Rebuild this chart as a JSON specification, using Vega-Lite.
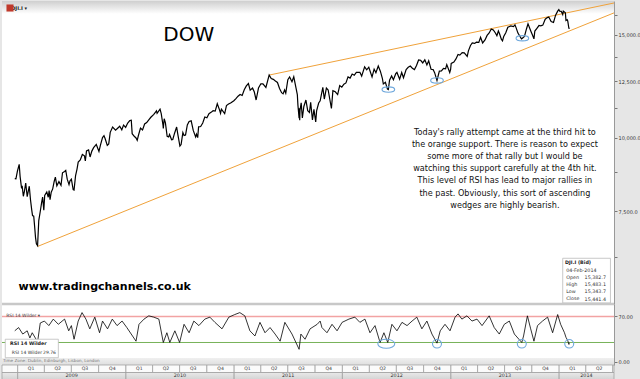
{
"$schema":"https://vega.github.io/schema/vega-lite/v6.json",
"padding":0,
"autosize":{"type":"pad"},
"background":"#e6e6e6",
"spacing":0,
"bounds":"flush",
"config":{"view":{"stroke":null,"fill":"white"},"font":"DejaVu Sans"},
"datasets":{
"price":[
{"d":"2008-12-22","v":8519},{"d":"2008-12-26","v":8515},{"d":"2008-12-31","v":8776},{"d":"2009-01-06","v":9015},{"d":"2009-01-09","v":8599},{"d":"2009-01-14","v":8200},{"d":"2009-01-16","v":8281},{"d":"2009-01-20","v":7950},{"d":"2009-01-23","v":8077},{"d":"2009-01-28","v":8375},{"d":"2009-02-02","v":7936},{"d":"2009-02-09","v":8270},{"d":"2009-02-13","v":7850},{"d":"2009-02-17","v":7552},{"d":"2009-02-20","v":7366},{"d":"2009-02-24","v":7350},{"d":"2009-02-27","v":7063},{"d":"2009-03-02","v":6763},{"d":"2009-03-05","v":6595},{"d":"2009-03-09","v":6547},{"d":"2009-03-13","v":7224},{"d":"2009-03-18","v":7487},{"d":"2009-03-23","v":7776},{"d":"2009-03-26","v":7924},{"d":"2009-03-30","v":7523},{"d":"2009-04-02","v":7978},{"d":"2009-04-09","v":8083},{"d":"2009-04-14","v":7920},{"d":"2009-04-17","v":8131},{"d":"2009-04-20","v":7841},{"d":"2009-04-24","v":8076},{"d":"2009-04-29","v":8185},{"d":"2009-05-04","v":8426},{"d":"2009-05-08","v":8575},{"d":"2009-05-13","v":8284},{"d":"2009-05-20","v":8422},{"d":"2009-05-27","v":8300},{"d":"2009-06-01","v":8721},{"d":"2009-06-08","v":8764},{"d":"2009-06-12","v":8799},{"d":"2009-06-17","v":8504},{"d":"2009-06-23","v":8322},{"d":"2009-06-26","v":8438},{"d":"2009-07-01","v":8504},{"d":"2009-07-07","v":8163},{"d":"2009-07-10","v":8146},{"d":"2009-07-15","v":8616},{"d":"2009-07-20","v":8848},{"d":"2009-07-24","v":9093},{"d":"2009-07-31","v":9172},{"d":"2009-08-07","v":9370},{"d":"2009-08-14","v":9321},{"d":"2009-08-17","v":9135},{"d":"2009-08-21","v":9505},{"d":"2009-08-28","v":9544},{"d":"2009-09-02","v":9280},{"d":"2009-09-08","v":9497},{"d":"2009-09-14","v":9626},{"d":"2009-09-23","v":9749},{"d":"2009-10-02","v":9487},{"d":"2009-10-07","v":9725},{"d":"2009-10-14","v":10015},{"d":"2009-10-19","v":10092},{"d":"2009-10-23","v":9972},{"d":"2009-10-30","v":9713},{"d":"2009-11-04","v":9771},{"d":"2009-11-09","v":10226},{"d":"2009-11-17","v":10437},{"d":"2009-11-27","v":10309},{"d":"2009-12-04","v":10389},{"d":"2009-12-11","v":10471},{"d":"2009-12-18","v":10329},{"d":"2009-12-24","v":10520},{"d":"2009-12-31","v":10428},
{"d":"2010-01-07","v":10606},{"d":"2010-01-14","v":10710},{"d":"2010-01-19","v":10725},{"d":"2010-01-22","v":10172},{"d":"2010-01-29","v":10067},{"d":"2010-02-04","v":10002},{"d":"2010-02-08","v":9908},{"d":"2010-02-12","v":10099},{"d":"2010-02-19","v":10402},{"d":"2010-02-26","v":10325},{"d":"2010-03-05","v":10567},{"d":"2010-03-12","v":10625},{"d":"2010-03-19","v":10742},{"d":"2010-03-26","v":10850},{"d":"2010-04-05","v":10974},{"d":"2010-04-14","v":11123},{"d":"2010-04-16","v":11019},{"d":"2010-04-26","v":11205},{"d":"2010-04-30","v":11009},{"d":"2010-05-06","v":10520},{"d":"2010-05-07","v":10380},{"d":"2010-05-10","v":10785},{"d":"2010-05-14","v":10620},{"d":"2010-05-20","v":10069},{"d":"2010-05-25","v":10043},{"d":"2010-05-28","v":10137},{"d":"2010-06-04","v":9931},{"d":"2010-06-08","v":9940},{"d":"2010-06-14","v":10190},{"d":"2010-06-21","v":10442},{"d":"2010-06-25","v":10144},{"d":"2010-07-02","v":9686},{"d":"2010-07-06","v":9744},{"d":"2010-07-12","v":10216},{"d":"2010-07-16","v":10097},{"d":"2010-07-21","v":10120},{"d":"2010-07-27","v":10525},{"d":"2010-08-02","v":10674},{"d":"2010-08-09","v":10698},{"d":"2010-08-16","v":10303},{"d":"2010-08-24","v":10041},{"d":"2010-08-27","v":10150},{"d":"2010-08-31","v":10014},{"d":"2010-09-03","v":10448},{"d":"2010-09-10","v":10462},{"d":"2010-09-17","v":10608},{"d":"2010-09-24","v":10860},{"d":"2010-10-01","v":10829},{"d":"2010-10-08","v":11006},{"d":"2010-10-15","v":11062},{"d":"2010-10-22","v":11133},{"d":"2010-10-29","v":11118},{"d":"2010-11-05","v":11444},{"d":"2010-11-12","v":11193},{"d":"2010-11-16","v":11023},{"d":"2010-11-19","v":11204},{"d":"2010-11-30","v":11006},{"d":"2010-12-06","v":11362},{"d":"2010-12-13","v":11429},{"d":"2010-12-20","v":11478},{"d":"2010-12-31","v":11578},
{"d":"2011-01-07","v":11675},{"d":"2011-01-14","v":11787},{"d":"2011-01-21","v":11871},{"d":"2011-01-28","v":11824},{"d":"2011-02-04","v":12092},{"d":"2011-02-11","v":12273},{"d":"2011-02-18","v":12391},{"d":"2011-02-24","v":12068},{"d":"2011-03-04","v":12170},{"d":"2011-03-10","v":11984},{"d":"2011-03-16","v":11613},{"d":"2011-03-24","v":12171},{"d":"2011-04-01","v":12377},{"d":"2011-04-08","v":12380},{"d":"2011-04-18","v":12202},{"d":"2011-04-29","v":12811},{"d":"2011-05-06","v":12638},{"d":"2011-05-13","v":12596},{"d":"2011-05-20","v":12512},{"d":"2011-05-27","v":12442},{"d":"2011-06-03","v":12151},{"d":"2011-06-10","v":11952},{"d":"2011-06-15","v":11897},{"d":"2011-06-20","v":12080},{"d":"2011-06-24","v":11934},{"d":"2011-07-01","v":12582},{"d":"2011-07-07","v":12719},{"d":"2011-07-15","v":12480},{"d":"2011-07-21","v":12724},{"d":"2011-07-29","v":12143},{"d":"2011-08-02","v":11867},{"d":"2011-08-04","v":11383},{"d":"2011-08-08","v":10810},{"d":"2011-08-09","v":11239},{"d":"2011-08-10","v":10719},{"d":"2011-08-11","v":11143},{"d":"2011-08-15","v":11482},{"d":"2011-08-19","v":10817},{"d":"2011-08-24","v":11320},{"d":"2011-08-31","v":11613},{"d":"2011-09-06","v":11139},{"d":"2011-09-12","v":11061},{"d":"2011-09-16","v":11509},{"d":"2011-09-22","v":10733},{"d":"2011-09-27","v":11190},{"d":"2011-10-03","v":10655},{"d":"2011-10-06","v":11123},{"d":"2011-10-13","v":11478},{"d":"2011-10-18","v":11577},{"d":"2011-10-27","v":12209},{"d":"2011-11-01","v":11657},{"d":"2011-11-08","v":12170},{"d":"2011-11-14","v":12079},{"d":"2011-11-25","v":11231},{"d":"2011-11-30","v":12046},{"d":"2011-12-08","v":11997},{"d":"2011-12-16","v":11866},{"d":"2011-12-23","v":12294},{"d":"2011-12-30","v":12218},
{"d":"2012-01-06","v":12360},{"d":"2012-01-13","v":12422},{"d":"2012-01-20","v":12720},{"d":"2012-01-27","v":12660},{"d":"2012-02-03","v":12862},{"d":"2012-02-10","v":12801},{"d":"2012-02-17","v":12950},{"d":"2012-02-29","v":12952},{"d":"2012-03-06","v":12759},{"d":"2012-03-16","v":13233},{"d":"2012-03-23","v":13081},{"d":"2012-03-30","v":13212},{"d":"2012-04-10","v":12716},{"d":"2012-04-17","v":13115},{"d":"2012-04-23","v":12928},{"d":"2012-05-01","v":13279},{"d":"2012-05-08","v":13008},{"d":"2012-05-15","v":12632},{"d":"2012-05-18","v":12369},{"d":"2012-05-25","v":12454},{"d":"2012-06-01","v":12119},{"d":"2012-06-04","v":12101},{"d":"2012-06-08","v":12554},{"d":"2012-06-15","v":12767},{"d":"2012-06-21","v":12574},{"d":"2012-06-29","v":12880},{"d":"2012-07-03","v":12943},{"d":"2012-07-12","v":12605},{"d":"2012-07-19","v":12943},{"d":"2012-07-25","v":12676},{"d":"2012-08-03","v":13096},{"d":"2012-08-10","v":13207},{"d":"2012-08-17","v":13275},{"d":"2012-08-24","v":13158},{"d":"2012-08-31","v":13090},{"d":"2012-09-07","v":13306},{"d":"2012-09-14","v":13593},{"d":"2012-09-21","v":13579},{"d":"2012-09-28","v":13437},{"d":"2012-10-05","v":13610},{"d":"2012-10-12","v":13328},{"d":"2012-10-18","v":13548},{"d":"2012-10-26","v":13107},{"d":"2012-11-02","v":13093},{"d":"2012-11-07","v":12932},{"d":"2012-11-15","v":12542},{"d":"2012-11-23","v":13010},{"d":"2012-11-30","v":13025},{"d":"2012-12-07","v":13155},{"d":"2012-12-14","v":13135},{"d":"2012-12-18","v":13351},{"d":"2012-12-28","v":12938},{"d":"2012-12-31","v":13104},
{"d":"2013-01-02","v":13412},{"d":"2013-01-11","v":13488},{"d":"2013-01-18","v":13650},{"d":"2013-01-25","v":13896},{"d":"2013-01-31","v":13861},{"d":"2013-02-08","v":13993},{"d":"2013-02-15","v":13981},{"d":"2013-02-25","v":13784},{"d":"2013-03-01","v":14090},{"d":"2013-03-08","v":14397},{"d":"2013-03-14","v":14539},{"d":"2013-03-22","v":14512},{"d":"2013-03-28","v":14579},{"d":"2013-04-05","v":14565},{"d":"2013-04-11","v":14865},{"d":"2013-04-18","v":14537},{"d":"2013-04-26","v":14712},{"d":"2013-05-03","v":14974},{"d":"2013-05-10","v":15118},{"d":"2013-05-17","v":15354},{"d":"2013-05-24","v":15303},{"d":"2013-05-31","v":15116},{"d":"2013-06-05","v":14961},{"d":"2013-06-10","v":15238},{"d":"2013-06-14","v":15070},{"d":"2013-06-20","v":14758},{"d":"2013-06-24","v":14660},{"d":"2013-06-28","v":14910},{"d":"2013-07-05","v":15135},{"d":"2013-07-12","v":15464},{"d":"2013-07-22","v":15545},{"d":"2013-07-31","v":15500},{"d":"2013-08-05","v":15612},{"d":"2013-08-09","v":15425},{"d":"2013-08-15","v":15112},{"d":"2013-08-27","v":14777},{"d":"2013-08-30","v":14810},{"d":"2013-09-06","v":14922},{"d":"2013-09-13","v":15376},{"d":"2013-09-18","v":15676},{"d":"2013-09-27","v":15258},{"d":"2013-10-03","v":14997},{"d":"2013-10-08","v":14776},{"d":"2013-10-11","v":15237},{"d":"2013-10-18","v":15400},{"d":"2013-10-25","v":15570},{"d":"2013-10-31","v":15546},{"d":"2013-11-07","v":15593},{"d":"2013-11-15","v":15962},{"d":"2013-11-22","v":16065},{"d":"2013-11-27","v":16097},{"d":"2013-12-05","v":15821},{"d":"2013-12-13","v":15755},{"d":"2013-12-20","v":16221},{"d":"2013-12-27","v":16479},{"d":"2013-12-31","v":16577},
{"d":"2014-01-03","v":16470},{"d":"2014-01-08","v":16462},{"d":"2014-01-13","v":16257},{"d":"2014-01-15","v":16482},{"d":"2014-01-22","v":16373},{"d":"2014-01-24","v":15879},{"d":"2014-01-28","v":15929},{"d":"2014-01-30","v":15849},{"d":"2014-02-03","v":15372},{"d":"2014-02-04","v":15445}],
"rsi":[
{"d":"2008-12-22","r":48},{"d":"2009-01-04","r":53},{"d":"2009-01-18","r":43},{"d":"2009-02-02","r":48},{"d":"2009-02-11","r":37},{"d":"2009-02-19","r":45},{"d":"2009-03-09","r":31},{"d":"2009-03-18","r":60},{"d":"2009-04-01","r":63},{"d":"2009-04-16","r":56},{"d":"2009-05-01","r":66},{"d":"2009-05-18","r":58},{"d":"2009-06-08","r":66},{"d":"2009-06-22","r":48},{"d":"2009-07-01","r":56},{"d":"2009-07-10","r":35},{"d":"2009-07-24","r":63},{"d":"2009-08-06","r":76},{"d":"2009-08-19","r":66},{"d":"2009-09-01","r":51},{"d":"2009-09-18","r":69},{"d":"2009-10-04","r":45},{"d":"2009-10-14","r":63},{"d":"2009-10-31","r":51},{"d":"2009-11-16","r":66},{"d":"2009-12-02","r":56},{"d":"2009-12-19","r":63},
{"d":"2010-01-04","r":53},{"d":"2010-02-04","r":32},{"d":"2010-02-14","r":58},{"d":"2010-03-03","r":66},{"d":"2010-03-19","r":71},{"d":"2010-04-05","r":69},{"d":"2010-04-22","r":66},{"d":"2010-05-07","r":30},{"d":"2010-05-19","r":45},{"d":"2010-05-29","r":30},{"d":"2010-06-15","r":48},{"d":"2010-07-01","r":30},{"d":"2010-07-16","r":58},{"d":"2010-08-02","r":45},{"d":"2010-08-18","r":63},{"d":"2010-09-04","r":56},{"d":"2010-09-24","r":66},{"d":"2010-10-11","r":69},{"d":"2010-10-28","r":61},{"d":"2010-11-21","r":51},{"d":"2010-12-14","r":69},
{"d":"2011-01-03","r":73},{"d":"2011-01-20","r":76},{"d":"2011-02-06","r":71},{"d":"2011-02-23","r":48},{"d":"2011-03-12","r":40},{"d":"2011-03-29","r":61},{"d":"2011-04-15","r":45},{"d":"2011-05-02","r":53},{"d":"2011-05-19","r":43},{"d":"2011-06-05","r":32},{"d":"2011-06-21","r":61},{"d":"2011-07-15","r":43},{"d":"2011-08-08","r":19.5},{"d":"2011-08-14","r":43},{"d":"2011-08-28","r":35},{"d":"2011-09-14","r":51},{"d":"2011-10-08","r":58},{"d":"2011-10-18","r":63},{"d":"2011-10-24","r":53},{"d":"2011-11-10","r":45},{"d":"2011-11-27","r":58},{"d":"2011-12-14","r":48},{"d":"2011-12-31","r":61},
{"d":"2012-01-23","r":66},{"d":"2012-02-12","r":69},{"d":"2012-02-29","r":61},{"d":"2012-03-17","r":66},{"d":"2012-04-03","r":45},{"d":"2012-04-20","r":56},{"d":"2012-05-07","r":30},{"d":"2012-05-20","r":45},{"d":"2012-06-02","r":30},{"d":"2012-06-16","r":58},{"d":"2012-07-03","r":48},{"d":"2012-07-20","r":61},{"d":"2012-08-06","r":56},{"d":"2012-08-23","r":63},{"d":"2012-09-08","r":69},{"d":"2012-09-25","r":51},{"d":"2012-10-12","r":63},{"d":"2012-10-29","r":43},{"d":"2012-11-15","r":29},{"d":"2012-11-26","r":48},{"d":"2012-12-12","r":58},{"d":"2012-12-29","r":48},
{"d":"2013-01-15","r":69},{"d":"2013-01-25","r":74},{"d":"2013-02-07","r":66},{"d":"2013-02-24","r":71},{"d":"2013-03-13","r":63},{"d":"2013-03-30","r":66},{"d":"2013-04-16","r":56},{"d":"2013-05-10","r":71},{"d":"2013-05-27","r":53},{"d":"2013-06-13","r":43},{"d":"2013-06-30","r":58},{"d":"2013-07-17","r":63},{"d":"2013-08-03","r":43},{"d":"2013-08-28","r":30},{"d":"2013-09-03","r":40},{"d":"2013-09-16","r":71},{"d":"2013-09-27","r":51},{"d":"2013-10-08","r":32},{"d":"2013-10-20","r":56},{"d":"2013-11-06","r":63},{"d":"2013-11-23","r":69},{"d":"2013-12-10","r":45},{"d":"2013-12-27","r":73},
{"d":"2014-01-06","r":58},{"d":"2014-01-19","r":45},{"d":"2014-01-24","r":38},{"d":"2014-01-30","r":33},{"d":"2014-02-03","r":27},{"d":"2014-02-04","r":29.76}],
"wedge":[{"line":"lower","d":"2009-03-09","v":6525},{"line":"lower","d":"2014-07-05","v":16364},{"line":"upper","d":"2011-04-29","v":12811},{"line":"upper","d":"2014-07-05","v":17015}],
"hits":[{"d":"2012-06-04","v":12101},{"d":"2012-11-15","v":12542},{"d":"2013-08-30","v":14810}],
"rsihits":[{"d":"2012-11-15","r":28},{"d":"2013-08-28","r":28},{"d":"2014-02-04","r":28}],
"rsihitwide":[{"d":"2012-05-28","r":28}],
"quarters":[
{"s":"2008-11-09","e":"2009-01-01","m":"2008-12-01","q":"","row":"q"},
{"s":"2009-01-01","e":"2009-04-01","m":"2009-02-15","q":"Q1","row":"q"},{"s":"2009-04-01","e":"2009-07-01","m":"2009-05-16","q":"Q2","row":"q"},{"s":"2009-07-01","e":"2009-10-01","m":"2009-08-16","q":"Q3","row":"q"},{"s":"2009-10-01","e":"2010-01-01","m":"2009-11-16","q":"Q4","row":"q"},
{"s":"2010-01-01","e":"2010-04-01","m":"2010-02-15","q":"Q1","row":"q"},{"s":"2010-04-01","e":"2010-07-01","m":"2010-05-16","q":"Q2","row":"q"},{"s":"2010-07-01","e":"2010-10-01","m":"2010-08-16","q":"Q3","row":"q"},{"s":"2010-10-01","e":"2011-01-01","m":"2010-11-16","q":"Q4","row":"q"},
{"s":"2011-01-01","e":"2011-04-01","m":"2011-02-15","q":"Q1","row":"q"},{"s":"2011-04-01","e":"2011-07-01","m":"2011-05-16","q":"Q2","row":"q"},{"s":"2011-07-01","e":"2011-10-01","m":"2011-08-16","q":"Q3","row":"q"},{"s":"2011-10-01","e":"2012-01-01","m":"2011-11-16","q":"Q4","row":"q"},
{"s":"2012-01-01","e":"2012-04-01","m":"2012-02-15","q":"Q1","row":"q"},{"s":"2012-04-01","e":"2012-07-01","m":"2012-05-16","q":"Q2","row":"q"},{"s":"2012-07-01","e":"2012-10-01","m":"2012-08-16","q":"Q3","row":"q"},{"s":"2012-10-01","e":"2013-01-01","m":"2012-11-16","q":"Q4","row":"q"},
{"s":"2013-01-01","e":"2013-04-01","m":"2013-02-15","q":"Q1","row":"q"},{"s":"2013-04-01","e":"2013-07-01","m":"2013-05-16","q":"Q2","row":"q"},{"s":"2013-07-01","e":"2013-10-01","m":"2013-08-16","q":"Q3","row":"q"},{"s":"2013-10-01","e":"2014-01-01","m":"2013-11-16","q":"Q4","row":"q"},
{"s":"2014-01-01","e":"2014-04-01","m":"2014-02-15","q":"Q1","row":"q"},{"s":"2014-04-01","e":"2014-07-01","m":"2014-05-16","q":"Q2","row":"q"},{"s":"2014-07-01","e":"2014-07-05","m":"2014-07-03","q":"","row":"q"}],
"years":[
{"s":"2008-11-09","e":"2009-01-01","m":"2008-12-01","y":"","row":"yr"},{"s":"2009-01-01","e":"2010-01-01","m":"2009-07-02","y":"2009","row":"yr"},{"s":"2010-01-01","e":"2011-01-01","m":"2010-07-02","y":"2010","row":"yr"},{"s":"2011-01-01","e":"2012-01-01","m":"2011-07-02","y":"2011","row":"yr"},{"s":"2012-01-01","e":"2013-01-01","m":"2012-07-02","y":"2012","row":"yr"},{"s":"2013-01-01","e":"2014-01-01","m":"2013-07-02","y":"2013","row":"yr"},{"s":"2014-01-01","e":"2014-07-05","m":"2014-04-03","y":"2014","row":"yr"}]
},
"vconcat":[
{"width":612,"height":303,
 "layer":[
{"data":{"values":[{}]},"mark":{"type":"rect","fill":{"gradient":"linear","x1":0,"y1":0,"x2":0,"y2":1,"stops":[{"offset":0,"color":"#cfcfcf"},{"offset":1,"color":"#ffffff"}]}},
 "encoding":{"x":{"datum":{"year":2008,"month":11,"date":9,"utc":true},"type":"temporal","scale":{"domain":[{"year":2008,"month":11,"date":9,"utc":true},{"year":2014,"month":7,"date":5,"utc":true}]},"axis":null},"x2":{"datum":{"year":2014,"month":7,"date":5,"utc":true}},
  "y":{"datum":17148,"type":"quantitative","scale":{"type":"log","domain":[5202,17148],"nice":false},
   "axis":{"orient":"right","title":null,"grid":false,"values":[6250,7500,8750,10000,11250,12500,13750,15000,16250],"labelExpr":"datum.value % 2500 === 0 ? format(datum.value, ',.1f') : ''","labelFontSize":5,"labelColor":"#333333","labelPadding":1,"labelOverlap":false,"tickColor":"#777777","tickSize":3,"domainColor":"#999999"}},"y2":{"datum":16300}}},
{"data":{"name":"wedge"},"mark":{"type":"line","color":"#f0a23a","strokeWidth":1},
 "encoding":{"x":{"field":"d","type":"temporal","scale":{"domain":[{"year":2008,"month":11,"date":9,"utc":true},{"year":2014,"month":7,"date":5,"utc":true}]},"axis":null},"y":{"field":"v","type":"quantitative","scale":{"type":"log","domain":[5202,17148],"nice":false}},"detail":{"field":"line"}}},
{"data":{"name":"price"},"mark":{"type":"line","color":"#000000","strokeWidth":1.2},
 "encoding":{"x":{"field":"d","type":"temporal","scale":{"domain":[{"year":2008,"month":11,"date":9,"utc":true},{"year":2014,"month":7,"date":5,"utc":true}]},"axis":null},
  "y":{"field":"v","type":"quantitative","scale":{"type":"log","domain":[5202,17148],"nice":false}}}},
{"data":{"name":"hits"},"mark":{"type":"point","shape":"M -1 0 A 1 0.42 0 1 1 1 0 A 1 0.42 0 1 1 -1 0 Z","size":160,"stroke":"#6fa8dc","strokeWidth":1.1,"filled":false,"opacity":1},
 "encoding":{"x":{"field":"d","type":"temporal","scale":{"domain":[{"year":2008,"month":11,"date":9,"utc":true},{"year":2014,"month":7,"date":5,"utc":true}]},"axis":null},"y":{"field":"v","type":"quantitative","scale":{"type":"log","domain":[5202,17148],"nice":false}}}},
{"data":{"values":[{"t":"DOW"}]},"mark":{"type":"text","fontSize":20,"align":"center","baseline":"middle","color":"#000000"},
 "encoding":{"text":{"field":"t"},"x":{"datum":{"year":2010,"month":8,"date":1,"utc":true},"type":"temporal","scale":{"domain":[{"year":2008,"month":11,"date":9,"utc":true},{"year":2014,"month":7,"date":5,"utc":true}]},"axis":null},
  "y":{"datum":15000,"type":"quantitative","scale":{"type":"log","domain":[5202,17148],"nice":false}}}},
{"data":{"values":[{"t":"Today's rally attempt came at the third hit to\nthe orange support. There is reason to expect\nsome more of that rally but I would be\nwatching this support carefully at the 4th hit.\nThis level of RSI has lead to major rallies in\nthe past. Obviously, this sort of ascending\nwedges are highly bearish."}]},
 "mark":{"type":"text","fontSize":8.1,"lineHeight":12.2,"lineBreak":"\n","align":"center","baseline":"top","color":"#111111"},
 "encoding":{"text":{"field":"t"},"x":{"datum":{"year":2013,"month":7,"date":2,"utc":true},"type":"temporal","scale":{"domain":[{"year":2008,"month":11,"date":9,"utc":true},{"year":2014,"month":7,"date":5,"utc":true}]},"axis":null},
  "y":{"datum":10373,"type":"quantitative","scale":{"type":"log","domain":[5202,17148],"nice":false}}}},
{"data":{"values":[{"t":"www.tradingchannels.co.uk"}]},"mark":{"type":"text","fontSize":11,"fontWeight":"bold","align":"left","baseline":"middle","color":"#000000"},
 "encoding":{"text":{"field":"t"},"x":{"datum":{"year":2009,"month":1,"date":4,"utc":true},"type":"temporal","scale":{"domain":[{"year":2008,"month":11,"date":9,"utc":true},{"year":2014,"month":7,"date":5,"utc":true}]},"axis":null},
  "y":{"datum":5562,"type":"quantitative","scale":{"type":"log","domain":[5202,17148],"nice":false}}}},
{"data":{"values":[{"t":"DJI.I ▾"}]},"mark":{"type":"text","fontSize":5,"fontWeight":"bold","align":"left","baseline":"middle","color":"#222222"},
 "encoding":{"text":{"field":"t"},"x":{"datum":{"year":2008,"month":12,"date":10,"utc":true},"type":"temporal","scale":{"domain":[{"year":2008,"month":11,"date":9,"utc":true},{"year":2014,"month":7,"date":5,"utc":true}]},"axis":null},
  "y":{"datum":16682,"type":"quantitative","scale":{"type":"log","domain":[5202,17148],"nice":false}}}},
{"data":{"values":[{}]},"mark":{"type":"point","shape":"square","size":50,"filled":true,"color":"#c0392b","opacity":1},
 "encoding":{"x":{"datum":{"year":2008,"month":11,"date":36,"utc":true},"type":"temporal","scale":{"domain":[{"year":2008,"month":11,"date":9,"utc":true},{"year":2014,"month":7,"date":5,"utc":true}]},"axis":null},
  "y":{"datum":16682,"type":"quantitative","scale":{"type":"log","domain":[5202,17148],"nice":false}}}},
{"data":{"values":[{}]},"mark":{"type":"rect","fill":"#ffffff","stroke":"#bbbbbb","strokeWidth":0.8},
 "encoding":{"x":{"datum":{"year":2014,"month":1,"date":13,"utc":true},"type":"temporal","scale":{"domain":[{"year":2008,"month":11,"date":9,"utc":true},{"year":2014,"month":7,"date":5,"utc":true}]},"axis":null},"x2":{"datum":{"year":2014,"month":6,"date":23,"utc":true}},
  "y":{"datum":6228,"type":"quantitative","scale":{"type":"log","domain":[5202,17148],"nice":false}},"y2":{"datum":5223}}},
{"data":{"values":[{"t":"DJI.I (Bid)"}]},"mark":{"type":"text","fontSize":4.8,"fontWeight":"bold","align":"left","baseline":"middle","color":"#222222"},
 "encoding":{"text":{"field":"t"},"x":{"datum":{"year":2014,"month":1,"date":21,"utc":true},"type":"temporal","scale":{"domain":[{"year":2008,"month":11,"date":9,"utc":true},{"year":2014,"month":7,"date":5,"utc":true}]},"axis":null},
  "y":{"datum":6120,"type":"quantitative","scale":{"type":"log","domain":[5202,17148],"nice":false}}}},
{"data":{"values":[{"t":"04-Feb-2014\nOpen\nHigh\nLow\nClose"}]},"mark":{"type":"text","fontSize":4.8,"lineHeight":7.1,"lineBreak":"\n","align":"left","baseline":"top","color":"#333333"},
 "encoding":{"text":{"field":"t"},"x":{"datum":{"year":2014,"month":1,"date":25,"utc":true},"type":"temporal","scale":{"domain":[{"year":2008,"month":11,"date":9,"utc":true},{"year":2014,"month":7,"date":5,"utc":true}]},"axis":null},
  "y":{"datum":5996,"type":"quantitative","scale":{"type":"log","domain":[5202,17148],"nice":false}}}},
{"data":{"values":[{"t":"15,382.7\n15,483.1\n15,343.7\n15,441.4"}]},"mark":{"type":"text","fontSize":4.8,"lineHeight":7.1,"lineBreak":"\n","align":"right","baseline":"top","color":"#333333"},
 "encoding":{"text":{"field":"t"},"x":{"datum":{"year":2014,"month":6,"date":8,"utc":true},"type":"temporal","scale":{"domain":[{"year":2008,"month":11,"date":9,"utc":true},{"year":2014,"month":7,"date":5,"utc":true}]},"axis":null},
  "y":{"datum":5825,"type":"quantitative","scale":{"type":"log","domain":[5202,17148],"nice":false}}}}
 ]},
{"width":612,"height":61,
 "layer":[
{"data":{"values":[{}]},"mark":{"type":"rect","fill":{"gradient":"linear","x1":0,"y1":0,"x2":0,"y2":1,"stops":[{"offset":0,"color":"#f0f0f0"},{"offset":1,"color":"#dedede"}]}},
 "encoding":{"x":{"datum":{"year":2008,"month":11,"date":9,"utc":true},"type":"temporal","scale":{"domain":[{"year":2008,"month":11,"date":9,"utc":true},{"year":2014,"month":7,"date":5,"utc":true}]},"axis":null},"x2":{"datum":{"year":2014,"month":7,"date":5,"utc":true}},
  "y":{"datum":6.15,"type":"quantitative","scale":{"domain":[-4.62,89.23],"nice":false,"zero":false},
   "axis":{"orient":"right","title":null,"grid":false,"values":[0,30,50,70],"format":".2f","labelFontSize":5,"labelColor":"#333333","labelPadding":1,"tickColor":"#777777","tickSize":3,"domainColor":"#999999"}},"y2":{"datum":-4.62}}},
{"data":{"values":[{}]},"mark":{"type":"rule","color":"#c8c8c8","strokeWidth":2.5},
 "encoding":{"y":{"datum":89.23,"type":"quantitative","scale":{"domain":[-4.62,89.23],"nice":false,"zero":false}}}},
{"data":{"values":[{}]},"mark":{"type":"rule","color":"#f2a3a3","strokeWidth":1.5},
 "encoding":{"y":{"datum":70,"type":"quantitative","scale":{"domain":[-4.62,89.23],"nice":false,"zero":false}}}},
{"data":{"values":[{}]},"mark":{"type":"rule","color":"#78b35a","strokeWidth":1},
 "encoding":{"y":{"datum":30,"type":"quantitative","scale":{"domain":[-4.62,89.23],"nice":false,"zero":false}}}},
{"data":{"name":"rsi"},"mark":{"type":"line","color":"#000000","strokeWidth":0.8},
 "encoding":{"x":{"field":"d","type":"temporal","scale":{"domain":[{"year":2008,"month":11,"date":9,"utc":true},{"year":2014,"month":7,"date":5,"utc":true}]},"axis":null},
  "y":{"field":"r","type":"quantitative","scale":{"domain":[-4.62,89.23],"nice":false,"zero":false}}}},
{"data":{"name":"rsihits"},"mark":{"type":"point","shape":"M -1 0 A 1 0.95 0 1 1 1 0 A 1 0.95 0 1 1 -1 0 Z","size":81,"stroke":"#6fa8dc","strokeWidth":1.1,"filled":false,"opacity":1},
 "encoding":{"x":{"field":"d","type":"temporal","scale":{"domain":[{"year":2008,"month":11,"date":9,"utc":true},{"year":2014,"month":7,"date":5,"utc":true}]},"axis":null},"y":{"field":"r","type":"quantitative","scale":{"domain":[-4.62,89.23],"nice":false,"zero":false}}}},
{"data":{"name":"rsihitwide"},"mark":{"type":"point","shape":"M -1 0 A 1 0.53 0 1 1 1 0 A 1 0.53 0 1 1 -1 0 Z","size":289,"stroke":"#6fa8dc","strokeWidth":1.1,"filled":false,"opacity":1},
 "encoding":{"x":{"field":"d","type":"temporal","scale":{"domain":[{"year":2008,"month":11,"date":9,"utc":true},{"year":2014,"month":7,"date":5,"utc":true}]},"axis":null},"y":{"field":"r","type":"quantitative","scale":{"domain":[-4.62,89.23],"nice":false,"zero":false}}}},
{"data":{"values":[{"t":"RSI 14 Wilder ▾"}]},"mark":{"type":"text","fontSize":4.5,"align":"left","baseline":"middle","color":"#444444"},
 "encoding":{"text":{"field":"t"},"x":{"datum":{"year":2008,"month":11,"date":23,"utc":true},"type":"temporal","scale":{"domain":[{"year":2008,"month":11,"date":9,"utc":true},{"year":2014,"month":7,"date":5,"utc":true}]},"axis":null},
  "y":{"datum":70,"type":"quantitative","scale":{"domain":[-4.62,89.23],"nice":false,"zero":false}}}},
{"data":{"values":[{}]},"mark":{"type":"rect","fill":"#ffffff","stroke":"#bbbbbb","strokeWidth":0.8},
 "encoding":{"x":{"datum":{"year":2008,"month":11,"date":20,"utc":true},"type":"temporal","scale":{"domain":[{"year":2008,"month":11,"date":9,"utc":true},{"year":2014,"month":7,"date":5,"utc":true}]},"axis":null},"x2":{"datum":{"year":2009,"month":5,"date":18,"utc":true}},
  "y":{"datum":35,"type":"quantitative","scale":{"domain":[-4.62,89.23],"nice":false,"zero":false}},"y2":{"datum":6.6}}},
{"data":{"values":[{"t":"RSI 14 Wilder"}]},"mark":{"type":"text","fontSize":4.8,"fontWeight":"bold","align":"left","baseline":"middle","color":"#222222"},
 "encoding":{"text":{"field":"t"},"x":{"datum":{"year":2008,"month":12,"date":6,"utc":true},"type":"temporal","scale":{"domain":[{"year":2008,"month":11,"date":9,"utc":true},{"year":2014,"month":7,"date":5,"utc":true}]},"axis":null},
  "y":{"datum":27,"type":"quantitative","scale":{"domain":[-4.62,89.23],"nice":false,"zero":false}}}},
{"data":{"values":[{"t":"RSI 14 Wilder"}]},"mark":{"type":"text","fontSize":4.5,"align":"left","baseline":"middle","color":"#333333"},
 "encoding":{"text":{"field":"t"},"x":{"datum":{"year":2008,"month":12,"date":12,"utc":true},"type":"temporal","scale":{"domain":[{"year":2008,"month":11,"date":9,"utc":true},{"year":2014,"month":7,"date":5,"utc":true}]},"axis":null},
  "y":{"datum":14.3,"type":"quantitative","scale":{"domain":[-4.62,89.23],"nice":false,"zero":false}}}},
{"data":{"values":[{"t":"29.76"}]},"mark":{"type":"text","fontSize":4.5,"align":"right","baseline":"middle","color":"#333333"},
 "encoding":{"text":{"field":"t"},"x":{"datum":{"year":2009,"month":5,"date":10,"utc":true},"type":"temporal","scale":{"domain":[{"year":2008,"month":11,"date":9,"utc":true},{"year":2014,"month":7,"date":5,"utc":true}]},"axis":null},
  "y":{"datum":14.3,"type":"quantitative","scale":{"domain":[-4.62,89.23],"nice":false,"zero":false}}}},
{"data":{"values":[{"t":"Time Zone: Dublin, Edinburgh, Lisbon, London"}]},"mark":{"type":"text","fontSize":4.2,"align":"left","baseline":"middle","color":"#777777"},
 "encoding":{"text":{"field":"t"},"x":{"datum":{"year":2008,"month":11,"date":12,"utc":true},"type":"temporal","scale":{"domain":[{"year":2008,"month":11,"date":9,"utc":true},{"year":2014,"month":7,"date":5,"utc":true}]},"axis":null},
  "y":{"datum":0.8,"type":"quantitative","scale":{"domain":[-4.62,89.23],"nice":false,"zero":false}}}}
 ]},
{"width":612,"height":15,
 "layer":[
{"data":{"name":"quarters"},"mark":{"type":"rect","fill":"#fbfbfb","stroke":"#9a9a9a","strokeWidth":0.7},
 "encoding":{"x":{"field":"s","type":"temporal","scale":{"domain":[{"year":2008,"month":11,"date":9,"utc":true},{"year":2014,"month":7,"date":5,"utc":true}]},"axis":null},"x2":{"field":"e"},
  "y":{"field":"row","type":"nominal","scale":{"type":"band","domain":["q","yr"],"paddingInner":0,"paddingOuter":0},"axis":null}}},
{"data":{"name":"quarters"},"mark":{"type":"text","fontSize":4.6,"align":"center","baseline":"middle","color":"#333333"},
 "encoding":{"text":{"field":"q"},"x":{"field":"m","type":"temporal","scale":{"domain":[{"year":2008,"month":11,"date":9,"utc":true},{"year":2014,"month":7,"date":5,"utc":true}]},"axis":null},
  "y":{"field":"row","type":"nominal","scale":{"type":"band","domain":["q","yr"],"paddingInner":0,"paddingOuter":0},"axis":null}}},
{"data":{"name":"years"},"mark":{"type":"rect","stroke":"#9a9a9a","strokeWidth":0.7,"fill":{"gradient":"linear","x1":0,"y1":0,"x2":0,"y2":1,"stops":[{"offset":0,"color":"#e9e9e9"},{"offset":1,"color":"#d2d2d2"}]}},
 "encoding":{"x":{"field":"s","type":"temporal","scale":{"domain":[{"year":2008,"month":11,"date":9,"utc":true},{"year":2014,"month":7,"date":5,"utc":true}]},"axis":null},"x2":{"field":"e"},
  "y":{"field":"row","type":"nominal","scale":{"type":"band","domain":["q","yr"],"paddingInner":0,"paddingOuter":0},"axis":null}}},
{"data":{"name":"years"},"mark":{"type":"text","fontSize":4.8,"align":"center","baseline":"middle","color":"#333333"},
 "encoding":{"text":{"field":"y"},"x":{"field":"m","type":"temporal","scale":{"domain":[{"year":2008,"month":11,"date":9,"utc":true},{"year":2014,"month":7,"date":5,"utc":true}]},"axis":null},
  "y":{"field":"row","type":"nominal","scale":{"type":"band","domain":["q","yr"],"paddingInner":0,"paddingOuter":0},"axis":null}}}
 ]}
]
}
